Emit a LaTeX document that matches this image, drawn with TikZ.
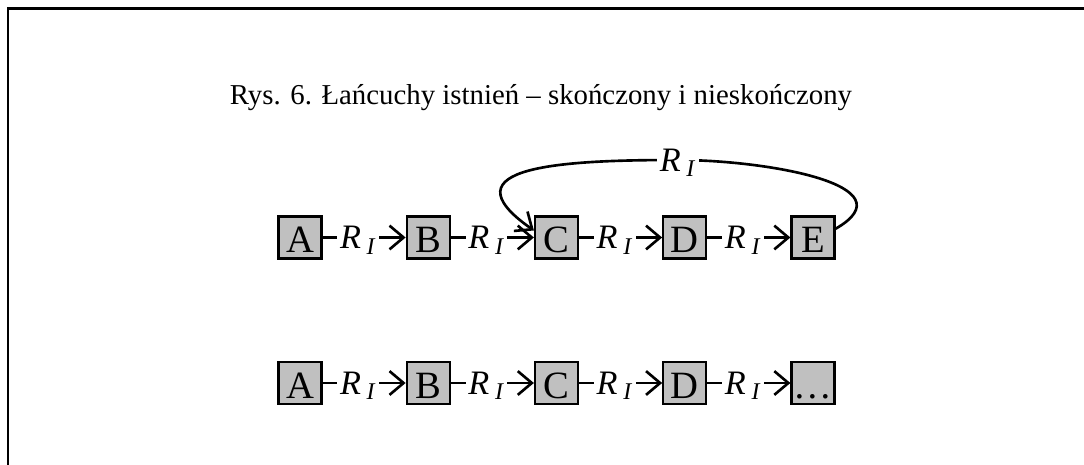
\documentclass[tikz,border=0pt]{standalone}
\usepackage{fontspec}
\setmainfont{Liberation Serif}
\usepackage{tikz}
\usetikzlibrary{positioning,arrows.meta}
\definecolor{boxgray}{RGB}{192,192,192}
\newcommand{\rel}{\textit{R}\,\textsubscript{\textit{I}}}
\tikzset{
  elem/.style={draw, fill=boxgray, line width=1.3pt, minimum width=0.86cm, minimum height=0.84cm,
               inner sep=0pt, text height=17.5pt, text depth=0pt, font=\fontsize{22}{26}\selectfont},
  edge/.style={-{Straight Barb[length=8pt,width=13.5pt]}, line width=1.5pt},
  lbl/.style={fill=white, inner sep=1.5pt, text height=12.9pt, text depth=0pt,
              font=\fontsize{19.5}{22}\selectfont},
  frame/.style={line width=1.7pt}
}

\begin{document}
\begin{tikzpicture}[x=0.02cm, y=0.02cm, node distance=1.66cm]
        \useasboundingbox (0,0) rectangle (1084,-465);
        \draw[frame] (8,-465) |- (1084,-9);
        \node[font=\fontsize{16.4}{20}\selectfont] (title) at (541,-98)
          {Rys. 6. Łańcuchy istnień – skończony i nieskończony};
        % finite chain with a loop
        \node[elem] (a1) at (300,-237.5) {A};
        \node[elem, right=of a1] (b1) {B};
        \node[elem, right=of b1] (c1) {C};
        \node[elem, right=of c1] (d1) {D};
        \node[elem, right=of d1] (e1) {E};
        \draw[edge] (a1) -- node[lbl, pos=0.43] {\rel} (b1);
        \draw[edge] (b1) -- node[lbl, pos=0.43] {\rel} (c1);
        \draw[edge] (c1) -- node[lbl, pos=0.43] {\rel} (d1);
        \draw[edge] (d1) -- node[lbl, pos=0.43] {\rel} (e1);
        \coordinate (top) at (678,-160);
        \draw[edge] ([yshift=5pt]e1.east) to[out=30, in=0, looseness=1.3] (top)
          node[lbl] {\rel} to[out=180, in=145, looseness=1.8] ([yshift=4pt]c1.west);
        % infinite chain
        \node[elem] (a2) at (300,-383) {A};
        \node[elem, right=of a2] (b2) {B};
        \node[elem, right=of b2] (c2) {C};
        \node[elem, right=of c2] (d2) {D};
        \node[elem, right=of d2] (x2) {\dots};
        \draw[edge] (a2) -- node[lbl, pos=0.43] {\rel} (b2);
        \draw[edge] (b2) -- node[lbl, pos=0.43] {\rel} (c2);
        \draw[edge] (c2) -- node[lbl, pos=0.43] {\rel} (d2);
        \draw[edge] (d2) -- node[lbl, pos=0.43] {\rel} (x2);
      \end{tikzpicture}
\end{document}
